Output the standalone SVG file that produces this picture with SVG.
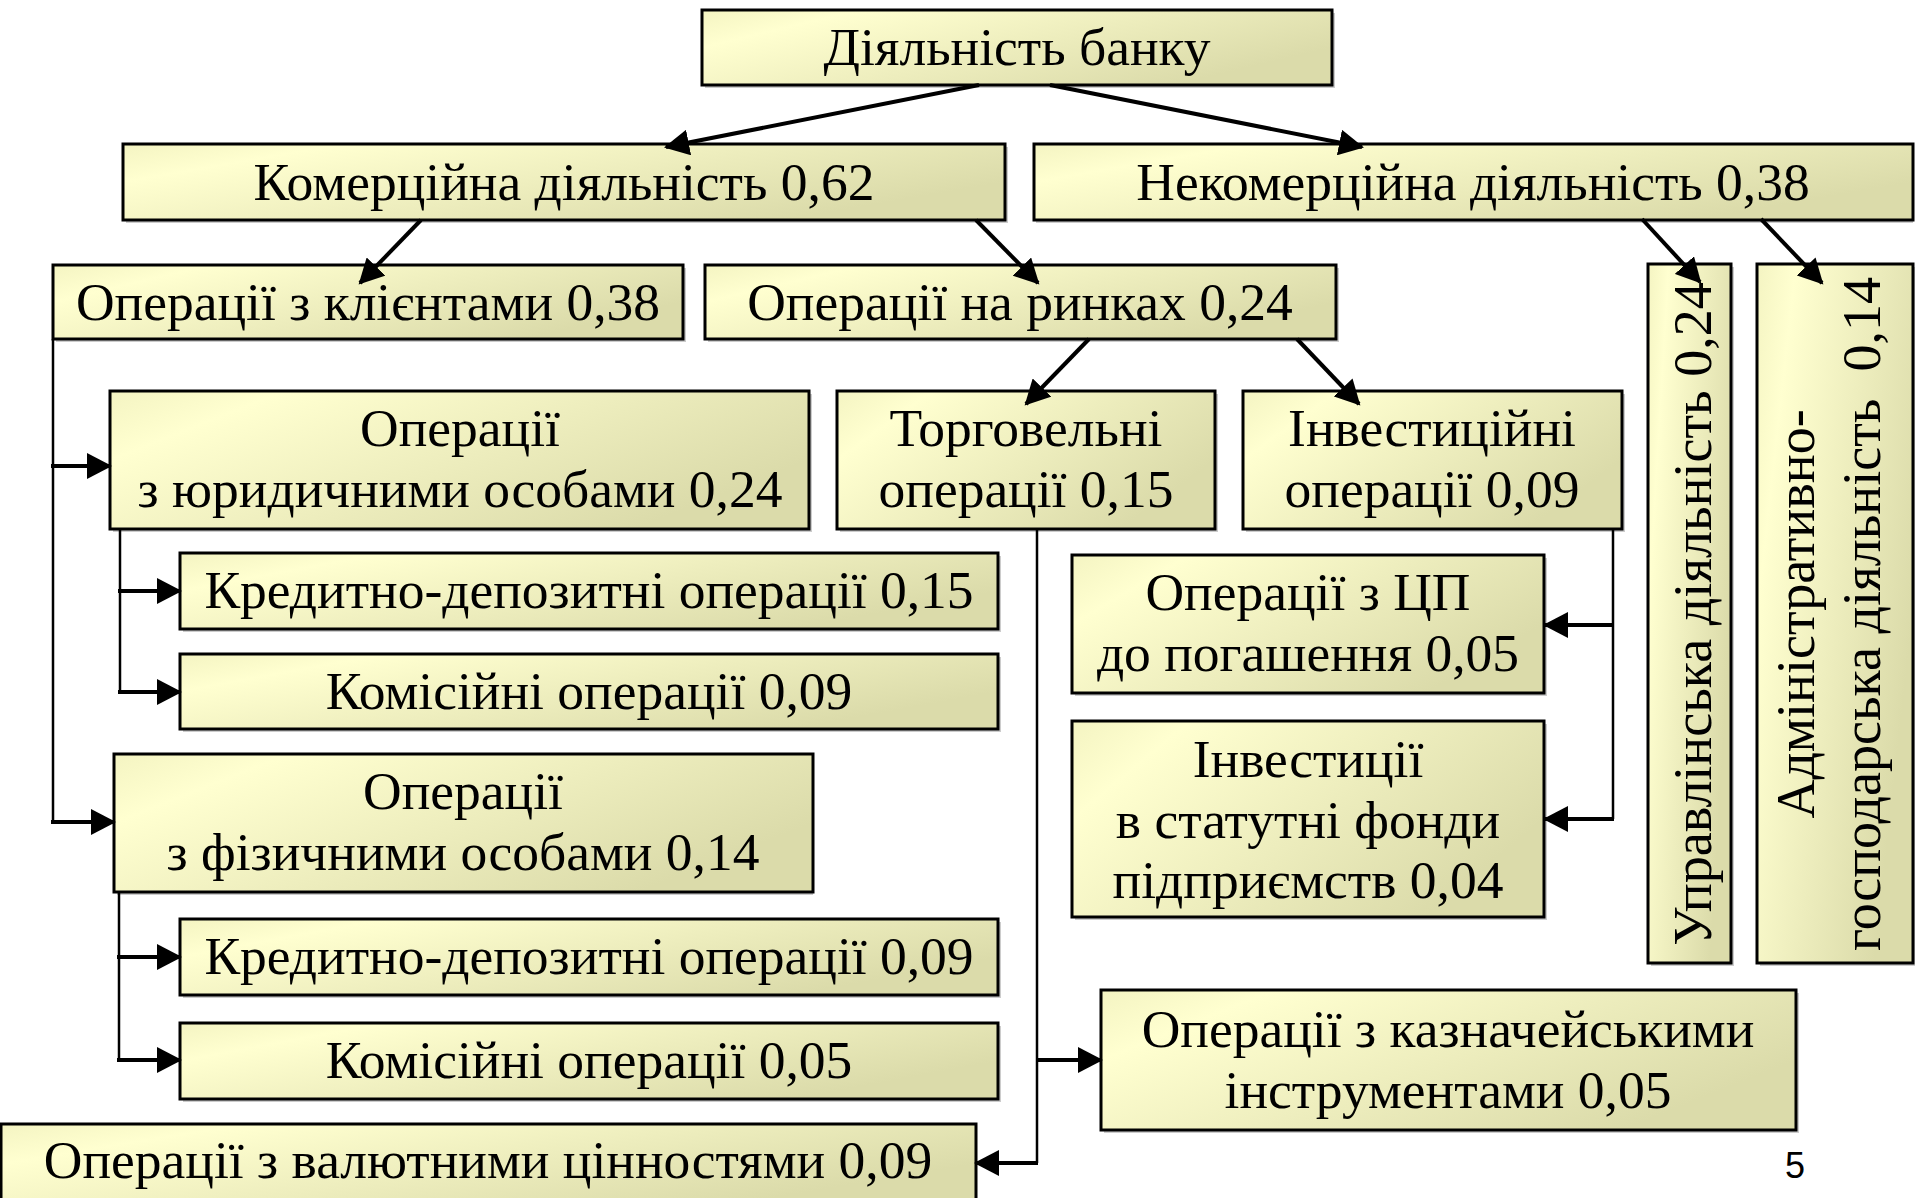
<svg xmlns="http://www.w3.org/2000/svg" width="1915" height="1198" viewBox="0 0 1915 1198">
<defs>
<linearGradient id="fill" x1="0" y1="0" x2="1" y2="0.5">
<stop offset="0" stop-color="#F4F4C2"/>
<stop offset="0.2" stop-color="#FFFFD0"/>
<stop offset="1" stop-color="#DBDBAA"/>
</linearGradient>
<marker id="ah" markerUnits="userSpaceOnUse" markerWidth="26" markerHeight="26" refX="23" refY="13" orient="auto">
<path d="M0,0 L25,13 L0,26 z" fill="#000"/>
</marker>
</defs>
<style>
.box{fill:url(#fill);stroke:#000;stroke-width:3}
.sh{fill:#9a9a9a;opacity:0.5}
.t{font-family:"Liberation Serif","Times New Roman",serif;font-size:53.5px;fill:#000;text-anchor:middle}
.tv{font-size:54px}
.diag{stroke:#000;stroke-width:4;fill:none;marker-end:url(#ah)}
.vl{stroke:#000;stroke-width:2.5;fill:none}
.hl{stroke:#000;stroke-width:4;fill:none;marker-end:url(#ah)}
.pg{font-family:"Liberation Sans",Arial,sans-serif;font-size:36px;fill:#000;text-anchor:middle}
</style>
<rect width="1915" height="1198" fill="#fff"/>

<g id="n-bank"><rect class="sh" x="705" y="13" width="630" height="75"/><rect class="box" x="702" y="10" width="630" height="75"/><text class="t" x="1017" y="65">Діяльність банку</text></g>
<g id="n-com"><rect class="sh" x="126" y="147" width="882" height="76"/><rect class="box" x="123" y="144" width="882" height="76"/><text class="t" x="564" y="200">Комерційна діяльність 0,62</text></g>
<g id="n-noncom"><rect class="sh" x="1036" y="147" width="877" height="76"/><rect class="box" x="1034" y="144" width="879" height="76"/><text class="t" x="1473" y="200">Некомерційна діяльність 0,38</text></g>
<g id="n-clients"><rect class="sh" x="56" y="268" width="630" height="74"/><rect class="box" x="53" y="265" width="630" height="74"/><text class="t" x="368" y="320">Операції з клієнтами 0,38</text></g>
<g id="n-markets"><rect class="sh" x="708" y="268" width="631" height="74"/><rect class="box" x="705" y="265" width="631" height="74"/><text class="t" x="1020" y="320">Операції на ринках 0,24</text></g>
<g id="n-mgmt"><rect class="sh" x="1651" y="267" width="83" height="699"/><rect class="box" x="1648" y="264" width="83" height="699"/><text class="t tv" transform="translate(1711,614) rotate(-90)">Управлінська діяльність 0,24</text></g>
<g id="n-admin"><rect class="sh" x="1760" y="267" width="155" height="699"/><rect class="box" x="1757" y="264" width="156" height="699"/><text class="t tv" transform="translate(1814,614) rotate(-90)">Адміністративно-</text><text class="t tv" transform="translate(1880,614) rotate(-90)" xml:space="preserve">господарська діяльність  0,14</text></g>
<g id="n-legal"><rect class="sh" x="113" y="394" width="699" height="138"/><rect class="box" x="110" y="391" width="699" height="138"/><text class="t" x="460" y="446">Операції</text><text class="t" x="460" y="507">з юридичними особами 0,24</text></g>
<g id="n-trade"><rect class="sh" x="840" y="394" width="378" height="138"/><rect class="box" x="837" y="391" width="378" height="138"/><text class="t" x="1026" y="446">Торговельні</text><text class="t" x="1026" y="507">операції 0,15</text></g>
<g id="n-invest"><rect class="sh" x="1246" y="394" width="379" height="138"/><rect class="box" x="1243" y="391" width="379" height="138"/><text class="t" x="1432" y="446">Інвестиційні</text><text class="t" x="1432" y="507">операції 0,09</text></g>
<g id="n-cred1"><rect class="sh" x="183" y="556" width="818" height="76"/><rect class="box" x="180" y="553" width="818" height="76"/><text class="t" x="589" y="608">Кредитно-депозитні операції 0,15</text></g>
<g id="n-comm1"><rect class="sh" x="183" y="657" width="818" height="75"/><rect class="box" x="180" y="654" width="818" height="75"/><text class="t" x="589" y="709">Комісійні операції 0,09</text></g>
<g id="n-sec"><rect class="sh" x="1075" y="558" width="472" height="138"/><rect class="box" x="1072" y="555" width="472" height="138"/><text class="t" x="1308" y="610">Операції з ЦП</text><text class="t" x="1308" y="671">до погашення 0,05</text></g>
<g id="n-equity"><rect class="sh" x="1075" y="724" width="472" height="196"/><rect class="box" x="1072" y="721" width="472" height="196"/><text class="t" x="1308" y="777">Інвестиції</text><text class="t" x="1308" y="838">в статутні фонди</text><text class="t" x="1308" y="898">підприємств 0,04</text></g>
<g id="n-phys"><rect class="sh" x="117" y="757" width="696" height="138"/><rect class="box" x="114" y="754" width="699" height="138"/><text class="t" x="463" y="809">Операції</text><text class="t" x="463" y="870">з фізичними особами 0,14</text></g>
<g id="n-cred2"><rect class="sh" x="183" y="922" width="818" height="76"/><rect class="box" x="180" y="919" width="818" height="76"/><text class="t" x="589" y="974">Кредитно-депозитні операції 0,09</text></g>
<g id="n-comm2"><rect class="sh" x="183" y="1026" width="818" height="76"/><rect class="box" x="180" y="1023" width="818" height="76"/><text class="t" x="589" y="1078">Комісійні операції 0,05</text></g>
<g id="n-treasury"><rect class="sh" x="1104" y="993" width="695" height="140"/><rect class="box" x="1101" y="990" width="695" height="140"/><text class="t" x="1448" y="1047">Операції з казначейськими</text><text class="t" x="1448" y="1108">інструментами 0,05</text></g>
<g id="n-fx"><rect class="box" x="1" y="1124" width="975" height="80"/><text class="t" x="488" y="1178">Операції з валютними цінностями 0,09</text></g>

<g id="connectors">
<line class="diag" x1="979" y1="85" x2="666" y2="147"/>
<line class="diag" x1="1050" y1="85" x2="1362" y2="147"/>
<line class="diag" x1="421" y1="220" x2="360" y2="283"/>
<line class="diag" x1="976" y1="220" x2="1038" y2="283"/>
<line class="diag" x1="1642" y1="219" x2="1700" y2="282"/>
<line class="diag" x1="1761" y1="219" x2="1822" y2="283"/>
<line class="diag" x1="1089" y1="339" x2="1026" y2="404"/>
<line class="diag" x1="1297" y1="339" x2="1359" y2="404"/>

<polyline class="vl" points="53,339 53,822"/>
<line class="hl" x1="51" y1="466" x2="110" y2="466"/>
<line class="hl" x1="51" y1="822" x2="114" y2="822"/>

<polyline class="vl" points="120,529 120,692"/>
<line class="hl" x1="118" y1="591" x2="180" y2="591"/>
<line class="hl" x1="118" y1="692" x2="180" y2="692"/>

<polyline class="vl" points="119,892 119,1060"/>
<line class="hl" x1="117" y1="957" x2="180" y2="957"/>
<line class="hl" x1="117" y1="1060" x2="180" y2="1060"/>

<polyline class="vl" points="1037,529 1037,1163"/>
<line class="hl" x1="1037" y1="1060" x2="1101" y2="1060"/>
<line class="hl" x1="1038" y1="1163" x2="976" y2="1163"/>

<polyline class="vl" points="1613,529 1613,819"/>
<line class="hl" x1="1614" y1="625" x2="1545" y2="625"/>
<line class="hl" x1="1614" y1="819" x2="1545" y2="819"/>
</g>

<text class="pg" x="1795" y="1178">5</text>
</svg>
